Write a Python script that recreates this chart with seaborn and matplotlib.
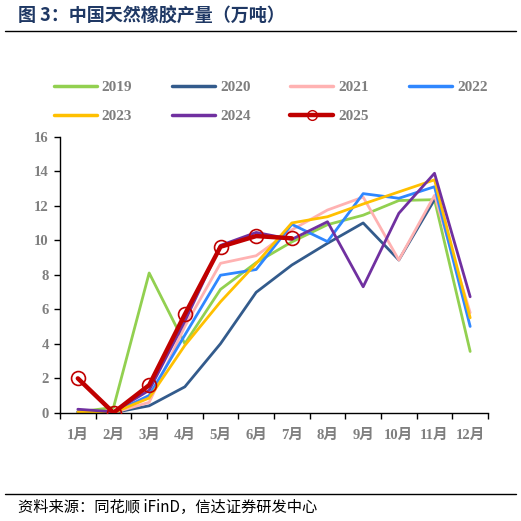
import numpy as np
import pandas as pd
import seaborn as sns
import matplotlib.pyplot as plt
from matplotlib.lines import Line2D
from matplotlib.ticker import FixedLocator

months = ["1月", "2月", "3月", "4月", "5月", "6月", "7月", "8月", "9月", "10月", "11月", "12月"]
years = ["2019", "2020", "2021", "2022", "2023", "2024", "2025"]

# 中国天然橡胶产量（万吨），
y2019 = [0.05, 0.3, 8.1, 4.0, 7.15, 8.7, 9.9, 10.9, 11.45, 12.3, 12.35, 3.55]
y2020 = [0.05, 0.0, 0.4, 1.5, 4.0, 6.98, 8.56, 9.82, 11.0, 8.85, 12.35, np.nan]
y2021 = [0.05, 0.0, 0.6, 5.0, 8.66, 9.1, 10.6, 11.75, 12.5, 8.85, 12.6, 5.8]
y2022 = [0.05, 0.0, 1.0, 4.5, 7.97, 8.3, 10.92, 9.92, 12.7, 12.43, 13.1, 5.0]
y2023 = [0.05, 0.0, 0.85, 3.9, 6.43, 8.65, 11.0, 11.36, 12.1, 12.8, 13.5, 5.5]
y2024 = [0.2, 0.05, 1.3, 5.3, 9.7, 10.45, 10.05, 11.07, 7.3, 11.56, 13.88, 6.72]
y2025 = [1.99, 0.0, 1.6, 5.7, 9.62, 10.24, 10.11]

series = [y2019, y2020, y2021, y2022, y2023, y2024, y2025]
colors = ["#92D050", "#335B8C", "#FFB2B2", "#2F87FF", "#FFC000", "#7030A0", "#C00000"]

sns.set_theme(style="white")
plt.rcParams["font.family"] = ["Liberation Serif", "Noto Sans CJK SC", "DejaVu Sans"]
grey = "#7F7F7F"

fig = plt.figure(figsize=(5.21, 5.21), dpi=100)
ax = fig.add_axes([60 / 521, 1 - 412.7 / 521, 428 / 521, 276 / 521])

for yr, vals, c in zip(years, series, colors):
    df = pd.DataFrame({"x": np.arange(len(vals)), "v": vals}).dropna()
    if yr == "2025":
        sns.lineplot(data=df, x="x", y="v", ax=ax, color=c, lw=3.2, marker="o",
                     markersize=10, markerfacecolor="none", markeredgecolor=c,
                     markeredgewidth=1.2, zorder=5)
    else:
        sns.lineplot(data=df, x="x", y="v", ax=ax, color=c, lw=2.0)

ax.set_xlim(-0.5, 11.5)
ax.set_ylim(0, 16)
ax.set_yticks(range(0, 17, 2))
ax.set_xticks(range(12))
ax.set_xticklabels(months)
ax.xaxis.set_minor_locator(FixedLocator(np.arange(-0.5, 12, 1)))
ax.set_xlabel("")
ax.set_ylabel("")
for s in ["top", "right"]:
    ax.spines[s].set_visible(False)
for s in ["left", "bottom"]:
    ax.spines[s].set_color("black")
    ax.spines[s].set_linewidth(1.0)
ax.tick_params(axis="x", which="major", length=0, pad=12, labelsize=10.5, labelcolor=grey)
ax.tick_params(axis="x", which="minor", length=4, width=1, color="black", direction="out", bottom=True)
ax.tick_params(axis="y", length=4, width=1, color="black", direction="out", left=True,
               labelsize=10.5, labelcolor=grey, pad=4)
for lab in ax.get_xticklabels() + ax.get_yticklabels():
    lab.set_fontweight("bold")

handles = {}
for yr, c in zip(years, colors):
    if yr == "2025":
        handles[yr] = Line2D([], [], color=c, lw=3.2, marker="o", markersize=7,
                             markerfacecolor="none", markeredgecolor=c)
    else:
        handles[yr] = Line2D([], [], color=c, lw=2.5)
# legend fills column by column, so order entries to read row by row
order = ["2019", "2023", "2020", "2024", "2021", "2025", "2022"]
leg = fig.legend([handles[k] for k in order], order, ncol=4, loc="center left",
                 bbox_to_anchor=(40 / 521, 1 - 102 / 521), frameon=False,
                 handlelength=2.8, handletextpad=0.35, columnspacing=2.6,
                 labelspacing=1.0, prop={"size": 11, "weight": "bold"})
for t in leg.get_texts():
    t.set_color(grey)

fig.text(18 / 521, 1 - 16 / 521, "图 3：中国天然橡胶产量（万吨）", fontsize=13, fontweight="bold",
         color="#1F3864", va="center", ha="left", family=["Noto Sans CJK SC", "DejaVu Sans"])
fig.add_artist(Line2D([5 / 521, 516 / 521], [1 - 31 / 521, 1 - 31 / 521], color="black", lw=1.0))
fig.add_artist(Line2D([5 / 521, 516 / 521], [1 - 494 / 521, 1 - 494 / 521], color="black", lw=1.0))
fig.text(18 / 521, 1 - 507 / 521, "资料来源：同花顺 iFinD，信达证券研发中心", fontsize=11,
         color="black", va="center", ha="left", style="italic",
         family=["Noto Sans CJK SC", "DejaVu Sans"])

fig.savefig("out.png", dpi=100)
